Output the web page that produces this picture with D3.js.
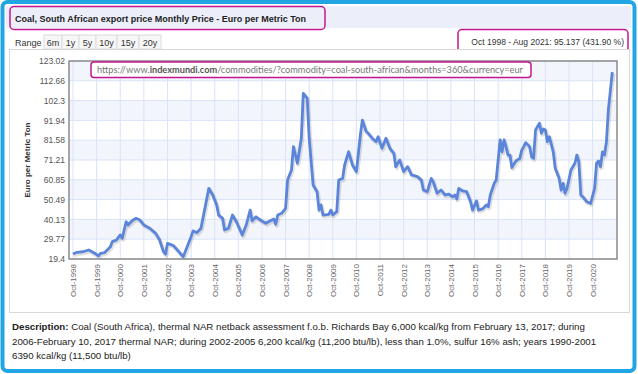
<!DOCTYPE html>
<html>
<head>
<meta charset="utf-8">
<script src="https://cdn.jsdelivr.net/npm/d3@7"></script>
<style>
  html, body { margin: 0; padding: 0; background: #fff; }
  svg { display: block; font-family: "Liberation Sans", Arial, sans-serif; }
</style>
</head>
<body>
<svg id="chart" width="638" height="374"></svg>
<script>
// month index counted from Oct 1998 (0) to Aug 2021 (274)
const monthIdx = [0, 2, 5, 8, 11, 13, 14, 16, 19, 20, 22, 24, 25, 27, 28, 30, 32, 34, 36, 39,
  42, 44, 46, 47, 48, 51, 53, 56, 58, 60, 61, 63, 65, 67, 69, 71, 73, 74, 76, 77,
  79, 81, 83, 86, 88, 90, 91, 93, 94, 96, 98, 100, 102, 103, 104, 106, 108, 109, 111, 112,
  114, 116, 117, 119, 120, 122, 124, 125, 126, 127, 130, 131, 132, 134, 135, 137, 138, 140, 142, 144,
  146, 147, 149, 150, 152, 154, 155, 157, 159, 161, 163, 164, 166, 168, 170, 172, 175, 177, 178, 180,
  182, 183, 185, 187, 189, 191, 193, 194, 195, 196, 198, 200, 202, 203, 205, 206, 208, 210, 211, 212,
  214, 215, 217, 218, 219, 220, 221, 222, 223, 225, 227, 228, 229, 230, 232, 233, 234, 235, 237, 238,
  239, 240, 241, 242, 244, 245, 247, 248, 249, 250, 251, 253, 255, 256, 257, 258, 259, 261, 263, 265,
  266, 267, 268, 269, 270, 271, 272, 274];
const priceEur = [22.0, 22.9, 23.2, 24.1, 22.4, 21.0, 22.4, 22.7, 25.8, 28.5, 29.3, 32.0, 30.2, 38.9, 37.2, 39.4, 40.7, 39.8, 37.2, 35.5,
  32.8, 29.3, 23.2, 21.9, 27.6, 26.4, 24.1, 20.6, 25.8, 31.1, 34.1, 33.2, 35.5, 45.9, 56.4, 52.9, 47.7, 42.4, 40.7, 34.6,
  35.5, 42.4, 38.9, 32.0, 37.2, 45.0, 39.4, 41.5, 40.7, 39.3, 38.1, 39.3, 40.3, 37.6, 42.4, 43.3, 45.9, 60.7, 66.0, 78.2,
  69.5, 82.6, 106.1, 103.5, 82.6, 58.1, 54.6, 45.0, 47.7, 42.4, 42.8, 45.0, 42.4, 44.2, 60.7, 61.6, 68.6, 75.5, 68.6, 65.1,
  84.3, 92.1, 86.0, 85.2, 82.6, 80.8, 83.4, 77.3, 82.6, 77.3, 74.7, 67.7, 71.2, 65.1, 67.7, 63.4, 62.5, 60.7, 55.5, 54.6,
  61.6, 59.8, 53.8, 55.5, 52.9, 53.3, 52.0, 52.9, 50.8, 56.4, 55.0, 54.6, 49.4, 45.0, 49.8, 45.0, 45.6, 47.7, 46.8, 52.9,
  59.0, 60.7, 81.7, 75.5, 81.7, 78.2, 73.8, 73.8, 67.2, 70.7, 72.1, 76.4, 78.2, 80.3, 78.2, 72.9, 72.1, 86.9, 90.4, 85.2,
  87.4, 86.9, 80.8, 83.4, 75.5, 66.9, 61.6, 55.5, 59.0, 53.8, 56.4, 66.0, 69.5, 73.8, 70.3, 52.9, 52.0, 49.4, 48.5, 56.4,
  69.5, 70.7, 67.7, 75.5, 73.8, 80.5, 97.4, 117.17];

const yTicks = [19.4, 29.77, 40.13, 50.49, 60.85, 71.21, 81.58, 91.94, 102.3, 112.66, 123.02];
const xTickYears = d3.range(1998, 2021);
const rangeButtons = ["6m", "1y", "5y", "10y", "15y", "20y"];
const descLines = [
  "Coal (South Africa), thermal NAR netback assessment f.o.b. Richards Bay 6,000 kcal/kg from February 13, 2017; during",
  "2006-February 10, 2017 thermal NAR; during 2002-2005 6,200 kcal/kg (11,200 btu/lb), less than 1.0%, sulfur 16% ash; years 1990-2001",
  "6390 kcal/kg (11,500 btu/lb)"
];

const MAGENTA = "#c4168c";
const svg = d3.select("#chart");

// outer blue frame
svg.append("rect").attr("x", 2.5).attr("y", 2).attr("width", 632).attr("height", 369).attr("rx", 5)
  .attr("fill", "#fff").attr("stroke", "#22a6e3").attr("stroke-width", 4);

// title band
svg.append("rect").attr("x", 6).attr("y", 6).attr("width", 625).attr("height", 22).attr("fill", "#eceffa");
svg.append("rect").attr("x", 10).attr("y", 6.5).attr("width", 315).attr("height", 23).attr("rx", 4)
  .attr("fill", "none").attr("stroke", MAGENTA).attr("stroke-width", 1.5);
svg.append("text").attr("x", 15).attr("y", 21.5).attr("font-size", 9).attr("font-weight", "bold")
  .attr("fill", "#222").text("Coal, South African export price Monthly Price - Euro per Metric Ton");

// range buttons
svg.append("text").attr("x", 15).attr("y", 46).attr("font-size", 9).attr("fill", "#333").text("Range");
const btnW = [18, 17, 17, 21, 22, 22];
let bx = 44;
rangeButtons.forEach((b, i) => {
  svg.append("rect").attr("x", bx).attr("y", 35).attr("width", btnW[i]).attr("height", 14)
    .attr("fill", "#f7f7f7").attr("stroke", "#dcdcdc");
  svg.append("text").attr("x", bx + btnW[i] / 2).attr("y", 46).attr("text-anchor", "middle")
    .attr("font-size", 9).attr("fill", "#333").text(b);
  bx += btnW[i];
});

// change box
svg.append("rect").attr("x", 458).attr("y", 29.5).attr("width", 170).attr("height", 23).attr("rx", 4)
  .attr("fill", "#fff").attr("stroke", MAGENTA).attr("stroke-width", 1.5);
svg.append("text").attr("x", 624).attr("y", 45).attr("text-anchor", "end").attr("font-size", 8.5)
  .attr("fill", "#333").text("Oct 1998 - Aug 2021: 95.137 (431.90 %)");

// chart panel
svg.append("rect").attr("x", 9.5).attr("y", 49.5).attr("width", 620).attr("height", 263)
  .attr("fill", "#fff").attr("stroke", "#d8d8d8");

// plot area
const plotLeft = 69, plotRight = 617, plotTop = 61, plotBottom = 259;
const x = d3.scaleLinear().domain([0, 274]).range([73, 612.3]);
const y = d3.scaleLinear().domain([19.4, 123.02]).range([plotBottom, plotTop]);

const g = svg.append("g");
yTicks.slice(0, -1).forEach((t, i) => {
  g.append("rect").attr("x", plotLeft).attr("width", plotRight - plotLeft)
    .attr("y", y(yTicks[i + 1])).attr("height", y(t) - y(yTicks[i + 1]))
    .attr("fill", (yTicks.length - 2 - i) % 2 === 0 ? "#f3f5fc" : "#fff");
});

g.selectAll(".hgrid").data(yTicks).join("line").attr("class", "hgrid")
  .attr("x1", plotLeft).attr("x2", plotRight).attr("y1", (d) => y(d)).attr("y2", (d) => y(d))
  .attr("stroke", "#d9e3f7").attr("stroke-width", 1);
g.selectAll(".vgrid").data(xTickYears).join("line").attr("class", "vgrid")
  .attr("x1", (d) => x((d - 1998) * 12)).attr("x2", (d) => x((d - 1998) * 12))
  .attr("y1", plotTop).attr("y2", plotBottom).attr("stroke", "#d9e3f7").attr("stroke-width", 1);

const series = monthIdx.map((m, i) => ({ m, v: priceEur[i] }));
const line = d3.line().x((d) => x(d.m)).y((d) => y(d.v)).curve(d3.curveLinear);

g.append("path").datum(series).attr("d", line).attr("fill", "none")
  .attr("stroke", "#000").attr("stroke-opacity", 0.12).attr("stroke-width", 4)
  .attr("stroke-linejoin", "round").attr("transform", "translate(1,1.5)");
g.append("path").datum(series).attr("d", line).attr("fill", "none")
  .attr("stroke", "#5b85da").attr("stroke-width", 2.8).attr("stroke-linejoin", "round");

g.append("rect").attr("x", plotLeft).attr("y", plotTop).attr("width", plotRight - plotLeft).attr("height", plotBottom - plotTop)
  .attr("fill", "none").attr("stroke", "#8a8a8a").attr("stroke-width", 1.5);

// axes
const yAxis = d3.axisLeft(y).tickValues(yTicks).tickSize(0).tickPadding(4).tickFormat((d) => String(d));
svg.append("g").attr("transform", `translate(${plotLeft},0)`).call(yAxis)
  .call((s) => s.select(".domain").remove())
  .selectAll("text").attr("font-size", 8.5).attr("fill", "#555").attr("font-family", "Liberation Sans, Arial, sans-serif");

const xAxis = d3.axisBottom(x).tickValues(xTickYears.map((yr) => (yr - 1998) * 12))
  .tickSize(0).tickFormat((d) => "Oct-" + (1998 + d / 12));
svg.append("g").attr("transform", `translate(0,${plotBottom})`).call(xAxis)
  .call((s) => s.select(".domain").remove())
  .selectAll("text").attr("font-size", 8).attr("fill", "#666").attr("font-family", "Liberation Sans, Arial, sans-serif")
  .attr("text-anchor", "end").attr("dy", "0.32em").attr("y", 0)
  .attr("transform", "translate(0,5) rotate(-90)");

svg.append("text").attr("transform", "translate(30,160) rotate(-90)").attr("text-anchor", "middle")
  .attr("font-size", 8).attr("font-weight", "bold").attr("fill", "#333").text("Euro per Metric Ton");

// url box
svg.append("rect").attr("x", 91).attr("y", 62).attr("width", 440).attr("height", 15.5).attr("rx", 3)
  .attr("fill", "#fff").attr("stroke", MAGENTA).attr("stroke-width", 1.5);
const url = svg.append("text").attr("x", 97).attr("y", 73).attr("font-size", 9.2).attr("fill", "#777")
  .attr("font-family", "Lato, 'Open Sans', sans-serif");
url.append("tspan").text("https://www.");
url.append("tspan").attr("font-weight", "bold").attr("fill", "#555").text("indexmundi.com");
url.append("tspan").text("/commodities/?commodity=coal-south-african&months=360&currency=eur");

// description
const desc = svg.append("text").attr("font-size", 9.7).attr("fill", "#222");
descLines.forEach((t, i) => {
  const ts = desc.append("tspan").attr("x", 12).attr("y", 330 + i * 14.5);
  if (i === 0) {
    ts.append("tspan").attr("font-weight", "bold").text("Description: ");
    ts.append("tspan").text(t);
  } else {
    ts.text(t);
  }
});
</script>
</body>
</html>
